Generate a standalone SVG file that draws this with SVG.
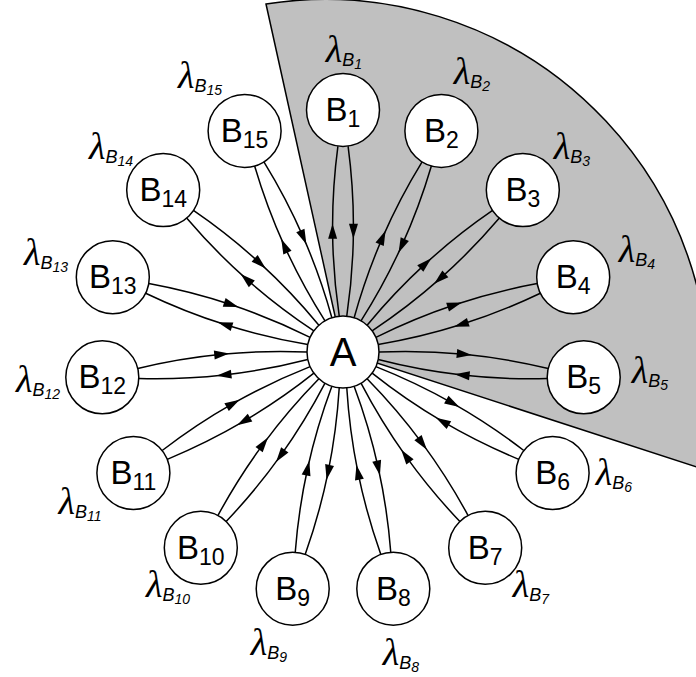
<svg xmlns="http://www.w3.org/2000/svg" width="696" height="677" viewBox="0 0 696 677">
<style>
.sector{fill:#c0c0c0;stroke:#000;stroke-width:1.5}
.node circle{fill:#fff;stroke:#000;stroke-width:1.5}
.nt{font-family:"Liberation Sans",Arial,sans-serif;font-size:33px;text-anchor:middle;fill:#000}
.nt .s{font-size:23px}
.at{font-family:"Liberation Sans",Arial,sans-serif;font-size:40px;text-anchor:middle}
.lab{font-family:"Liberation Sans",Arial,sans-serif;font-style:italic;text-anchor:middle}
.lab .lam{font-family:"Liberation Serif","Times New Roman",serif;font-size:38px}
.lab .lb{font-size:18px}
.lab .ld{font-size:14px}
.edge{fill:none;stroke:#000;stroke-width:1.5;marker-mid:url(#arr)}
</style>
<defs>
<marker id="arr" markerUnits="userSpaceOnUse" markerWidth="20" markerHeight="20" viewBox="-10 -10 20 20" refX="0" refY="0" orient="auto" overflow="visible">
<path d="M7.5,0 L-7.5,-4.5 L-7.5,4.5 Z" fill="#000"/>
</marker>
</defs>
<rect width="696" height="677" fill="#fff"/>
<path class="sector" d="M343,352 L266,4 A384,384 0 0 1 700,468 Z"/>
<g id="connectors">
<g transform="translate(343 352) rotate(-90)"><path class="edge" d="M35.8,-3.76 Q78.31,-10.09 120.83,-10.42 Q163.34,-10.75 205.85,-5.08"/><path class="edge" d="M205.85,5.08 Q163.34,10.75 120.83,10.42 Q78.31,10.09 35.8,3.76"/></g>
<g transform="translate(343 352) rotate(-66)"><path class="edge" d="M35.8,-3.76 Q78.31,-10.09 120.83,-10.42 Q163.34,-10.75 205.85,-5.08"/><path class="edge" d="M205.85,5.08 Q163.34,10.75 120.83,10.42 Q78.31,10.09 35.8,3.76"/></g>
<g transform="translate(343 352) rotate(-42)"><path class="edge" d="M35.8,-3.76 Q78.31,-10.09 120.83,-10.42 Q163.34,-10.75 205.85,-5.08"/><path class="edge" d="M205.85,5.08 Q163.34,10.75 120.83,10.42 Q78.31,10.09 35.8,3.76"/></g>
<g transform="translate(343 352) rotate(-18)"><path class="edge" d="M35.8,-3.76 Q78.31,-10.09 120.83,-10.42 Q163.34,-10.75 205.85,-5.08"/><path class="edge" d="M205.85,5.08 Q163.34,10.75 120.83,10.42 Q78.31,10.09 35.8,3.76"/></g>
<g transform="translate(343 352) rotate(6)"><path class="edge" d="M35.8,-3.76 Q78.31,-10.09 120.83,-10.42 Q163.34,-10.75 205.85,-5.08"/><path class="edge" d="M205.85,5.08 Q163.34,10.75 120.83,10.42 Q78.31,10.09 35.8,3.76"/></g>
<g transform="translate(343 352) rotate(30)"><path class="edge" d="M35.8,-3.76 Q78.31,-10.09 120.83,-10.42 Q163.34,-10.75 205.85,-5.08"/><path class="edge" d="M205.85,5.08 Q163.34,10.75 120.83,10.42 Q78.31,10.09 35.8,3.76"/></g>
<g transform="translate(343 352) rotate(54)"><path class="edge" d="M35.8,-3.76 Q78.31,-10.09 120.83,-10.42 Q163.34,-10.75 205.85,-5.08"/><path class="edge" d="M205.85,5.08 Q163.34,10.75 120.83,10.42 Q78.31,10.09 35.8,3.76"/></g>
<g transform="translate(343 352) rotate(78)"><path class="edge" d="M35.8,-3.76 Q78.31,-10.09 120.83,-10.42 Q163.34,-10.75 205.85,-5.08"/><path class="edge" d="M205.85,5.08 Q163.34,10.75 120.83,10.42 Q78.31,10.09 35.8,3.76"/></g>
<g transform="translate(343 352) rotate(102)"><path class="edge" d="M35.8,-3.76 Q78.31,-10.09 120.83,-10.42 Q163.34,-10.75 205.85,-5.08"/><path class="edge" d="M205.85,5.08 Q163.34,10.75 120.83,10.42 Q78.31,10.09 35.8,3.76"/></g>
<g transform="translate(343 352) rotate(126)"><path class="edge" d="M35.8,-3.76 Q78.31,-10.09 120.83,-10.42 Q163.34,-10.75 205.85,-5.08"/><path class="edge" d="M205.85,5.08 Q163.34,10.75 120.83,10.42 Q78.31,10.09 35.8,3.76"/></g>
<g transform="translate(343 352) rotate(150)"><path class="edge" d="M35.8,-3.76 Q78.31,-10.09 120.83,-10.42 Q163.34,-10.75 205.85,-5.08"/><path class="edge" d="M205.85,5.08 Q163.34,10.75 120.83,10.42 Q78.31,10.09 35.8,3.76"/></g>
<g transform="translate(343 352) rotate(174)"><path class="edge" d="M35.8,-3.76 Q78.31,-10.09 120.83,-10.42 Q163.34,-10.75 205.85,-5.08"/><path class="edge" d="M205.85,5.08 Q163.34,10.75 120.83,10.42 Q78.31,10.09 35.8,3.76"/></g>
<g transform="translate(343 352) rotate(198)"><path class="edge" d="M35.8,-3.76 Q78.31,-10.09 120.83,-10.42 Q163.34,-10.75 205.85,-5.08"/><path class="edge" d="M205.85,5.08 Q163.34,10.75 120.83,10.42 Q78.31,10.09 35.8,3.76"/></g>
<g transform="translate(343 352) rotate(222)"><path class="edge" d="M35.8,-3.76 Q78.31,-10.09 120.83,-10.42 Q163.34,-10.75 205.85,-5.08"/><path class="edge" d="M205.85,5.08 Q163.34,10.75 120.83,10.42 Q78.31,10.09 35.8,3.76"/></g>
<g transform="translate(343 352) rotate(246)"><path class="edge" d="M35.8,-3.76 Q78.31,-10.09 120.83,-10.42 Q163.34,-10.75 205.85,-5.08"/><path class="edge" d="M205.85,5.08 Q163.34,10.75 120.83,10.42 Q78.31,10.09 35.8,3.76"/></g>
</g>
<g id="A" class="node"><circle cx="343" cy="352" r="36"/><text class="at" x="343" y="366">A</text></g>
<g id="B1" class="node"><circle cx="343" cy="110" r="36.5"/><text class="nt" x="343" y="121">B<tspan class="s" dy="6">1</tspan></text><text class="lab" x="344" y="62"><tspan class="lam">λ</tspan><tspan class="lb" dy="4">B</tspan><tspan class="ld" dy="3">1</tspan></text></g>
<g id="B2" class="node"><circle cx="441.4" cy="130.9" r="36.5"/><text class="nt" x="441.4" y="141.9">B<tspan class="s" dy="6">2</tspan></text><text class="lab" x="472" y="84"><tspan class="lam">λ</tspan><tspan class="lb" dy="4">B</tspan><tspan class="ld" dy="3">2</tspan></text></g>
<g id="B3" class="node"><circle cx="522.8" cy="190.1" r="36.5"/><text class="nt" x="522.8" y="201.1">B<tspan class="s" dy="6">3</tspan></text><text class="lab" x="572" y="159"><tspan class="lam">λ</tspan><tspan class="lb" dy="4">B</tspan><tspan class="ld" dy="3">3</tspan></text></g>
<g id="B4" class="node"><circle cx="573.2" cy="277.2" r="36.5"/><text class="nt" x="573.2" y="288.2">B<tspan class="s" dy="6">4</tspan></text><text class="lab" x="637" y="262"><tspan class="lam">λ</tspan><tspan class="lb" dy="4">B</tspan><tspan class="ld" dy="3">4</tspan></text></g>
<g id="B5" class="node"><circle cx="583.7" cy="377.3" r="36.5"/><text class="nt" x="583.7" y="388.3">B<tspan class="s" dy="6">5</tspan></text><text class="lab" x="650" y="383"><tspan class="lam">λ</tspan><tspan class="lb" dy="4">B</tspan><tspan class="ld" dy="3">5</tspan></text></g>
<g id="B6" class="node"><circle cx="552.6" cy="473" r="36.5"/><text class="nt" x="552.6" y="484">B<tspan class="s" dy="6">6</tspan></text><text class="lab" x="614" y="485"><tspan class="lam">λ</tspan><tspan class="lb" dy="4">B</tspan><tspan class="ld" dy="3">6</tspan></text></g>
<g id="B7" class="node"><circle cx="485.2" cy="547.8" r="36.5"/><text class="nt" x="485.2" y="558.8">B<tspan class="s" dy="6">7</tspan></text><text class="lab" x="531" y="597"><tspan class="lam">λ</tspan><tspan class="lb" dy="4">B</tspan><tspan class="ld" dy="3">7</tspan></text></g>
<g id="B8" class="node"><circle cx="393.3" cy="588.7" r="36.5"/><text class="nt" x="393.3" y="599.7">B<tspan class="s" dy="6">8</tspan></text><text class="lab" x="401" y="665"><tspan class="lam">λ</tspan><tspan class="lb" dy="4">B</tspan><tspan class="ld" dy="3">8</tspan></text></g>
<g id="B9" class="node"><circle cx="292.7" cy="588.7" r="36.5"/><text class="nt" x="292.7" y="599.7">B<tspan class="s" dy="6">9</tspan></text><text class="lab" x="269" y="655"><tspan class="lam">λ</tspan><tspan class="lb" dy="4">B</tspan><tspan class="ld" dy="3">9</tspan></text></g>
<g id="B10" class="node"><circle cx="200.8" cy="547.8" r="36.5"/><text class="nt" x="200.8" y="558.8">B<tspan class="s" dy="6">10</tspan></text><text class="lab" x="168" y="597"><tspan class="lam">λ</tspan><tspan class="lb" dy="4">B</tspan><tspan class="ld" dy="3">10</tspan></text></g>
<g id="B11" class="node"><circle cx="133.4" cy="473" r="36.5"/><text class="nt" x="133.4" y="484">B<tspan class="s" dy="6">11</tspan></text><text class="lab" x="80" y="514"><tspan class="lam">λ</tspan><tspan class="lb" dy="4">B</tspan><tspan class="ld" dy="3">11</tspan></text></g>
<g id="B12" class="node"><circle cx="102.3" cy="377.3" r="36.5"/><text class="nt" x="102.3" y="388.3">B<tspan class="s" dy="6">12</tspan></text><text class="lab" x="38" y="392"><tspan class="lam">λ</tspan><tspan class="lb" dy="4">B</tspan><tspan class="ld" dy="3">12</tspan></text></g>
<g id="B13" class="node"><circle cx="112.8" cy="277.2" r="36.5"/><text class="nt" x="112.8" y="288.2">B<tspan class="s" dy="6">13</tspan></text><text class="lab" x="46" y="265"><tspan class="lam">λ</tspan><tspan class="lb" dy="4">B</tspan><tspan class="ld" dy="3">13</tspan></text></g>
<g id="B14" class="node"><circle cx="163.2" cy="190.1" r="36.5"/><text class="nt" x="163.2" y="201.1">B<tspan class="s" dy="6">14</tspan></text><text class="lab" x="111" y="159"><tspan class="lam">λ</tspan><tspan class="lb" dy="4">B</tspan><tspan class="ld" dy="3">14</tspan></text></g>
<g id="B15" class="node"><circle cx="244.6" cy="130.9" r="36.5"/><text class="nt" x="244.6" y="141.9">B<tspan class="s" dy="6">15</tspan></text><text class="lab" x="200" y="88"><tspan class="lam">λ</tspan><tspan class="lb" dy="4">B</tspan><tspan class="ld" dy="3">15</tspan></text></g>
</svg>
